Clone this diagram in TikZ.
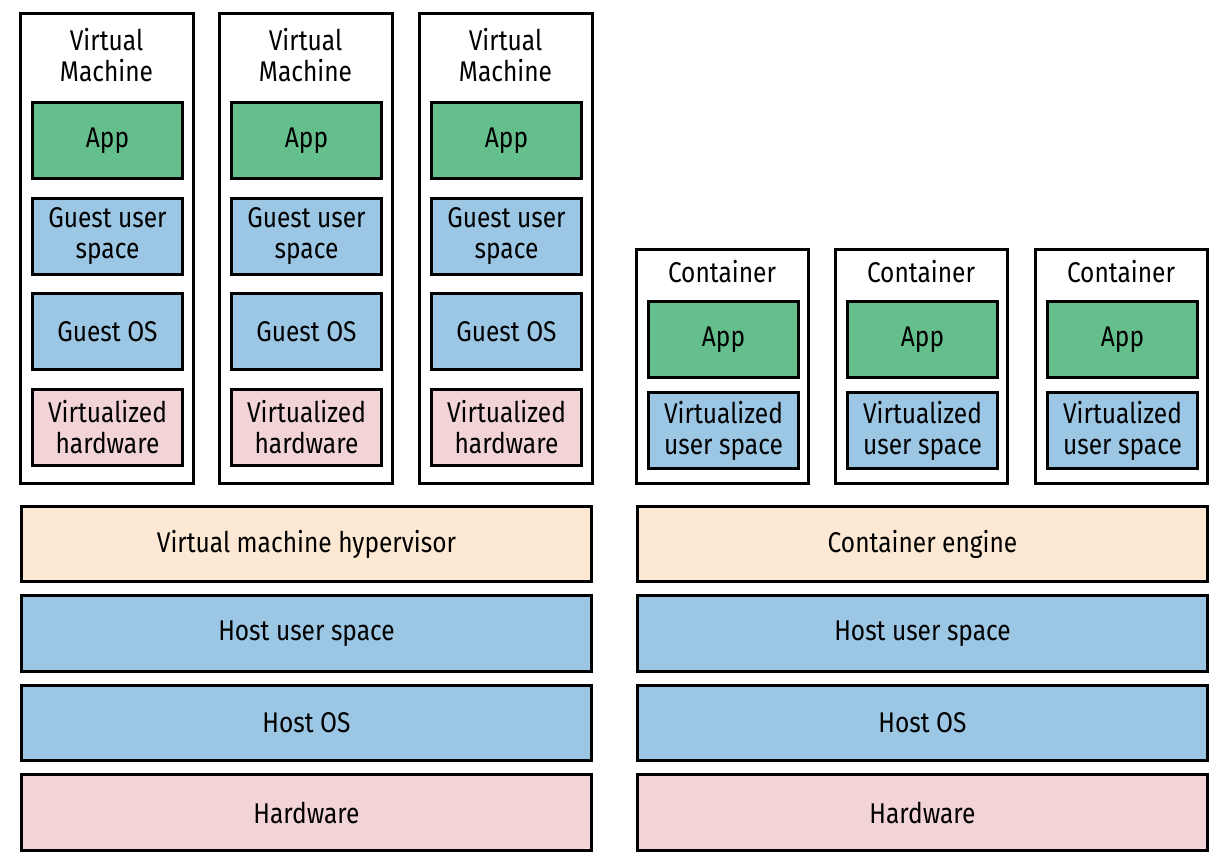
\documentclass[tikz,border=0pt]{standalone}
\usepackage{fontspec}
\setmainfont{Fira Sans}[FakeStretch=0.86]
\definecolor{appg}{RGB}{101,191,141}
\definecolor{blu}{RGB}{155,198,228}
\definecolor{pnk}{RGB}{242,212,214}
\definecolor{pch}{RGB}{253,232,211}
\begin{document}
\begin{tikzpicture}[x=1pt,y=-1pt,
  lay/.style={draw=black,line width=3pt,inner sep=0pt,anchor=north west,align=center,font=\fontsize{28.5}{31}\selectfont},
  outer/.style={draw=black,line width=3pt,fill=white}]
\useasboundingbox (0,0) rectangle (1226,862);
% VMs
\foreach \i/\x in {1/20,2/219,3/419}{
  \draw[outer] (\x,13) rectangle (\x+173,483);
  \node[font=\fontsize{28.5}{31}\selectfont,align=center] (vmt\i) at (\x+86.5,55) {Virtual\\Machine};
  \node[lay,fill=appg,minimum width=150pt,minimum height=76pt] (app\i) at (\x+11,101) {App};
  \node[lay,fill=blu,minimum width=150pt,minimum height=76pt] (gus\i) at (\x+11,197) {Guest user\\space};
  \node[lay,fill=blu,minimum width=150pt,minimum height=76pt] (gos\i) at (\x+11,292) {Guest OS};
  \node[lay,fill=pnk,minimum width=150pt,minimum height=76pt] (vhw\i) at (\x+11,388) {Virtualized\\hardware};
}
% Containers
\foreach \i/\x in {1/636,2/835,3/1035}{
  \draw[outer] (\x,249) rectangle (\x+172,483);
  \node[font=\fontsize{28.5}{31}\selectfont] (ct\i) at (\x+86,272) {Container};
  \node[lay,fill=appg,minimum width=150pt,minimum height=76pt] (capp\i) at (\x+11,300) {App};
  \node[lay,fill=blu,minimum width=150pt,minimum height=76pt] (cvus\i) at (\x+11,391) {Virtualized\\user space};
}
% bottom layers
\node[lay,fill=pch,minimum width=570pt,minimum height=75pt] (hyp) at (20,505) {Virtual machine hypervisor};
\node[lay,fill=blu,minimum width=570pt,minimum height=76pt] (hus1) at (20,594) {Host user space};
\node[lay,fill=blu,minimum width=570pt,minimum height=75pt] (hos1) at (20,684) {Host OS};
\node[lay,fill=pnk,minimum width=570pt,minimum height=76pt] (hw1) at (20,773) {Hardware};
\node[lay,fill=pch,minimum width=570pt,minimum height=75pt] (eng) at (636,505) {Container engine};
\node[lay,fill=blu,minimum width=570pt,minimum height=76pt] (hus2) at (636,594) {Host user space};
\node[lay,fill=blu,minimum width=570pt,minimum height=75pt] (hos2) at (636,684) {Host OS};
\node[lay,fill=pnk,minimum width=570pt,minimum height=76pt] (hw2) at (636,773) {Hardware};
\end{tikzpicture}
\end{document}
